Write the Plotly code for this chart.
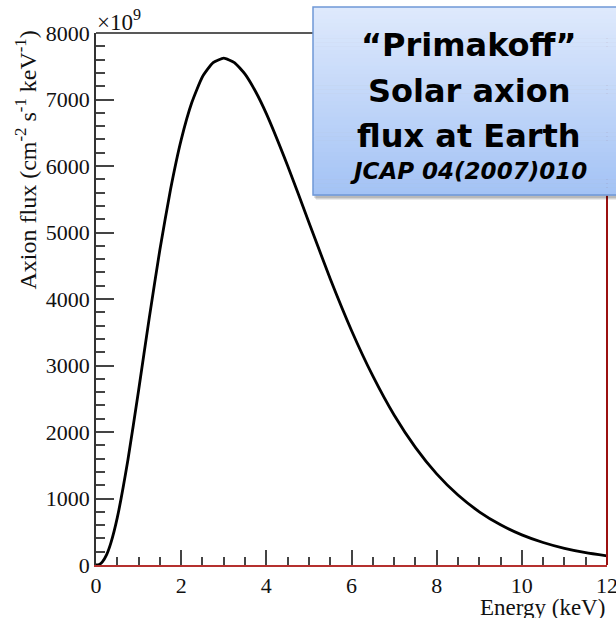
import plotly.graph_objects as go

# Data (flux in units of 1e9 cm^-2 s^-1 keV^-1)
energy = [0, 0.05, 0.1, 0.15, 0.25, 0.35, 0.5, 0.75, 1, 1.25, 1.5, 1.75, 2, 2.25, 2.5, 2.75, 3, 3.25,
          3.5, 3.75, 4, 4.5, 5, 5.5, 6, 6.5, 7, 7.5, 8, 8.5, 9, 9.5, 10, 10.5, 11, 11.5, 12]
flux = [0, 3, 18, 48, 157, 333, 712, 1582, 2625, 3712, 4742, 5647, 6393, 6954, 7343, 7555, 7621, 7556,
        7381, 7116, 6787, 6004, 5151, 4304, 3527, 2843, 2256, 1769, 1370, 1052, 800, 605,
        453, 338, 250, 185, 136]

x_ticks = [0, 2, 4, 6, 8, 10, 12]
y_ticks = [0, 1000, 2000, 3000, 4000, 5000, 6000, 7000, 8000]

box_lines = ["“Primakoff”", "Solar axion", "flux at Earth"]
box_ref = "JCAP 04(2007)010"

W, H = 616, 618
L, R, T, B = 96, 607, 33, 565


def px(x):
    return (x - L) / (R - L)


def py(y):
    return (B - y) / (B - T)


fig = go.Figure()
fig.add_trace(go.Scatter(x=energy, y=flux, mode="lines",
                         line=dict(color="black", width=2.8, shape="spline", smoothing=0.5),
                         hoverinfo="skip", showlegend=False))

serif = "Liberation Serif"
tickcol = "#444444"
txtcol = "#111111"

shapes = []
# top border (black) and right border (dark red)
shapes.append(dict(type="line", xref="paper", yref="paper", x0=0, x1=1, y0=1, y1=1,
                   line=dict(color="#222222", width=1.5), layer="above"))
shapes.append(dict(type="line", xref="paper", yref="paper", x0=1, x1=1, y0=0, y1=1,
                   line=dict(color="#9b1010", width=2), layer="above"))

# text box: shadow
bx0, bx1, by0, by1 = 313, 622, 7, 195
for k, a in [(5, 0.08), (4, 0.1), (3, 0.12)]:
    shapes.append(dict(type="rect", xref="paper", yref="paper",
                       x0=px(bx0 + k - 2), x1=px(bx1 + k), y0=py(by1 + k), y1=py(by0 + k),
                       fillcolor=f"rgba(0,0,0,{a})", line=dict(width=0), layer="above"))
# gradient fill
n = 48
top_c = (222, 233, 252)
bot_c = (164, 195, 245)
for i in range(n):
    t = i / (n - 1)
    c = tuple(round(top_c[j] + (bot_c[j] - top_c[j]) * t) for j in range(3))
    ya = by0 + (by1 - by0) * i / n
    yb = by0 + (by1 - by0) * (i + 1) / n
    shapes.append(dict(type="rect", xref="paper", yref="paper",
                       x0=px(bx0), x1=px(bx1), y0=py(yb + 0.5), y1=py(ya),
                       fillcolor=f"rgb{c}", line=dict(width=0), layer="above"))
shapes.append(dict(type="rect", xref="paper", yref="paper",
                   x0=px(bx0), x1=px(bx1), y0=py(by1), y1=py(by0),
                   fillcolor="rgba(0,0,0,0)", line=dict(color="#6f98d6", width=1.5), layer="above"))

annotations = []
box_font = "DejaVu Sans"
cy = [45, 91, 136]
for txt, yy in zip(box_lines, cy):
    annotations.append(dict(text=f"<b>{txt}</b>", xref="paper", yref="paper",
                            x=px(469), y=py(yy), xanchor="center", yanchor="middle",
                            showarrow=False, font=dict(family=box_font, size=32, color="black")))
annotations.append(dict(text=f"<b><i>{box_ref}</i></b>", xref="paper", yref="paper",
                        x=px(468), y=py(171), xanchor="center", yanchor="middle",
                        showarrow=False, font=dict(family=box_font, size=23, color="black")))
# exponent label
annotations.append(dict(text="×10<sup>9</sup>", xref="paper", yref="paper",
                        x=px(95), y=py(20), xanchor="left", yanchor="middle",
                        showarrow=False, font=dict(family=serif, size=23, color=txtcol)))
# axis titles
annotations.append(dict(text="Energy (keV)", xref="paper", yref="paper",
                        x=1, y=py(607), xanchor="right", yanchor="middle",
                        showarrow=False, font=dict(family=serif, size=23, color=txtcol)))
annotations.append(dict(text="Axion flux (cm<sup>-2</sup> s<sup>-1</sup> keV<sup>-1</sup>)",
                        xref="paper", yref="paper", textangle=-90,
                        x=px(26), y=py(29), xanchor="center", yanchor="top",
                        showarrow=False, font=dict(family=serif, size=24, color=txtcol)))

fig.update_layout(
    width=W, height=H,
    margin=dict(l=L, r=W - R, t=T, b=H - B, autoexpand=False),
    paper_bgcolor="white", plot_bgcolor="white",
    shapes=shapes, annotations=annotations,
    showlegend=False,
    xaxis=dict(range=[0, 12], tickvals=x_ticks, ticktext=[str(v) for v in x_ticks],
               ticks="inside", ticklen=15, tickwidth=1.5, tickcolor=tickcol,
               minor=dict(dtick=0.5, ticks="inside", ticklen=8, tickwidth=1.5, tickcolor=tickcol),
               showline=True, linecolor="#b5302e", linewidth=2, automargin=False,
               showgrid=False, zeroline=False, ticklabeloverflow="allow",
               tickfont=dict(family=serif, size=22, color=txtcol)),
    yaxis=dict(range=[0, 8000], tickvals=y_ticks, ticktext=[str(v) for v in y_ticks],
               ticks="inside", ticklen=18, tickwidth=1.5, tickcolor=tickcol,
               minor=dict(dtick=200, ticks="inside", ticklen=9, tickwidth=1.5, tickcolor=tickcol),
               showline=True, linecolor="#333333", linewidth=1.5, automargin=False,
               showgrid=False, zeroline=False, ticklabeloverflow="allow",
               tickfont=dict(family=serif, size=22, color=txtcol)),
)

fig.write_html("out.html", config={"displayModeBar": False},
               post_script="document.body.style.margin='0';document.body.style.overflow='hidden';")
